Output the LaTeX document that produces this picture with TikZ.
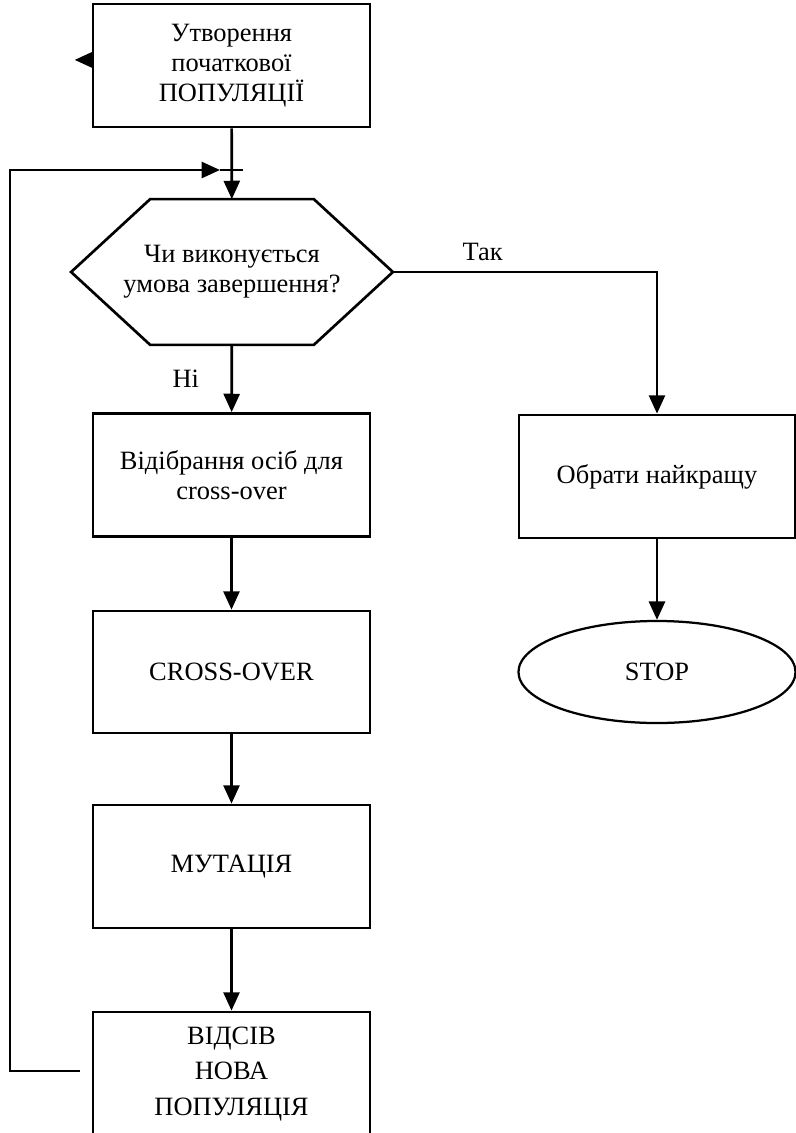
\documentclass[tikz,border=0pt]{standalone}
\usepackage{fontspec}
\setmainfont{Liberation Serif}
\usetikzlibrary{arrows.meta,shapes.geometric}

\begin{document}
\begin{tikzpicture}[x=0.025cm, y=-0.025cm, line width=1.9pt,
    font=\fontsize{18.8}{21.5}\selectfont,
    block/.style={draw, rectangle, align=center, inner sep=0pt,
                  minimum width=6.925cm, minimum height=3.075cm},
    stopnode/.style={draw, ellipse, inner sep=0pt, line width=1.6pt,
                     minimum width=6.925cm, minimum height=2.55cm},
    hexnode/.style={inner sep=0pt, align=center,
                    minimum width=7.975cm, minimum height=3.575cm},
    flow/.style={-{Triangle[length=0.46cm, width=0.4cm]}}]

    \useasboundingbox (0,0) rectangle (796,1133);

    \node[block]                       (start) at (231.5,65.5) {Утворення\\початкової\\ПОПУЛЯЦІЇ};
    \node[hexnode]                     (cond)  at (232,272)    {Чи виконується\\умова завершення?};
    \node[block]                       (sel)   at (231.5,475)  {Відібрання осіб для\\cross-over};
    \node[block, minimum height=3.05cm](cross) at (231.5,672)  {CROSS-OVER};
    \node[block]                       (mut)   at (231.5,866.5){МУТАЦІЯ};
    \node[block, minimum height=3.1cm,
          font=\fontsize{18.8}{25}\selectfont] (pop) at (231.5,1074) {ВІДСІВ\\НОВА\\ПОПУЛЯЦІЯ};
    \node[block, minimum width=6.9cm]  (best)  at (657,476.5)  {Обрати найкращу};
    \node[stopnode]                    (stop)  at (657,672)    {STOP};

    \draw (cond.west) -- ([xshift=1.975cm]cond.north west) -- ([xshift=-1.975cm]cond.north east)
          -- (cond.east) -- ([xshift=-1.975cm]cond.south east) -- ([xshift=1.975cm]cond.south west) -- cycle;

    \coordinate (loopend)  at (80,1071);
    \coordinate (loopturn) at (10,170);
    \coordinate (merge)    at (220,170);
    \coordinate (mergeend) at (243,170);

    \draw[flow] ([yshift=0.14cm]start.west) -- ++(-17,0);
    \draw[flow] (start) -- (cond);
    \draw[flow] (loopend) -| (loopturn) -- (merge);
    \draw (merge) -- (mergeend);

    \draw[flow] (cond) -- (sel) node[pos=0.5, xshift=-1.15cm] {Ні};
    \draw[flow] (cond.east) -| (best.north) node[pos=0.17, above=4pt] {Так};
    \draw[flow] (sel) -- (cross);
    \draw[flow] (cross) -- (mut);
    \draw[flow] (mut) -- (pop);
    \draw[flow] (best) -- (stop);

\end{tikzpicture}
\end{document}
